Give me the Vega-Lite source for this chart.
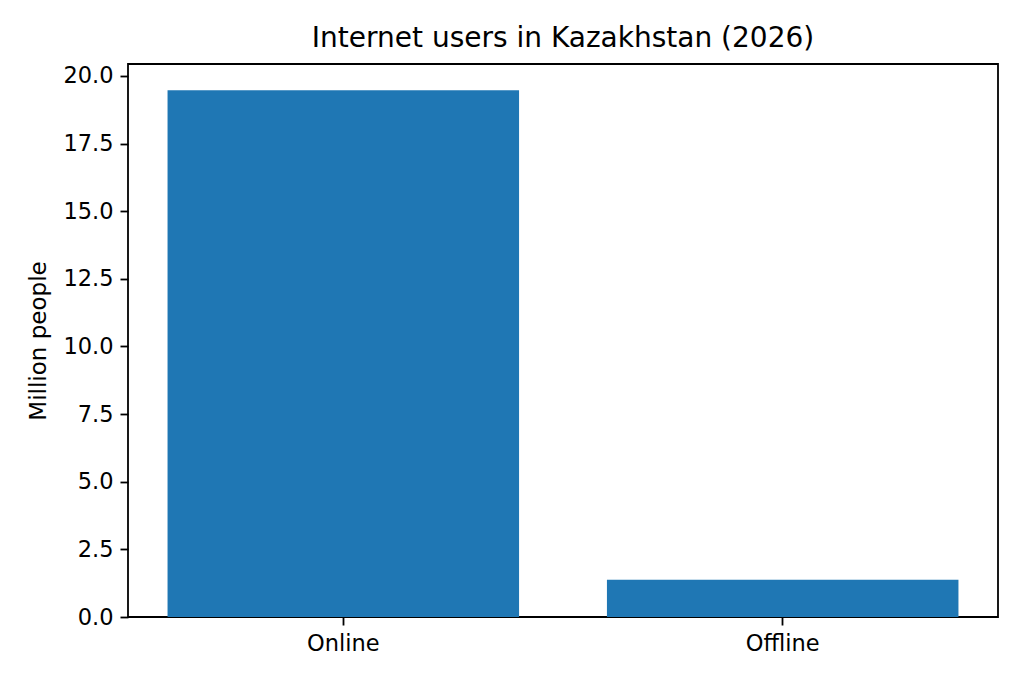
{
  "$schema": "https://vega.github.io/schema/vega-lite/v6.json",
  "autosize": "none",
  "width": 870,
  "height": 553,
  "padding": {"left": 128, "top": 64, "right": 26, "bottom": 66},
  "background": "white",
  "title": {
    "text": "Internet users in Kazakhstan (2026)",
    "font": "DejaVu Sans",
    "fontSize": 28,
    "fontWeight": "normal",
    "color": "black",
    "offset": 11
  },
  "config": {
    "view": {"stroke": "black", "strokeWidth": 1.8},
    "axis": {
      "labelFont": "DejaVu Sans",
      "labelFontSize": 22.5,
      "labelColor": "black",
      "titleFont": "DejaVu Sans",
      "titleFontSize": 23,
      "titleFontWeight": "normal",
      "titleColor": "black",
      "tickColor": "black",
      "tickWidth": 1.8,
      "tickSize": 8,
      "domain": false,
      "grid": false
    }
  },
  "data": {
    "values": [
      {"status": "Online", "people": 19.47},
      {"status": "Offline", "people": 1.38}
    ]
  },
  "mark": {"type": "bar", "color": "#1f77b4"},
  "encoding": {
    "x": {
      "field": "status",
      "type": "nominal",
      "sort": ["Online", "Offline"],
      "scale": {"paddingInner": 0.2, "paddingOuter": 0.09},
      "axis": {"title": null, "labelAngle": 0, "labelPadding": 7}
    },
    "y": {
      "field": "people",
      "type": "quantitative",
      "scale": {"domain": [0, 20.44], "nice": false},
      "axis": {
        "title": "Million people",
        "values": [0, 2.5, 5, 7.5, 10, 12.5, 15, 17.5, 20],
        "format": ".1f",
        "labelPadding": 7,
        "titlePadding": 12
      }
    }
  }
}
